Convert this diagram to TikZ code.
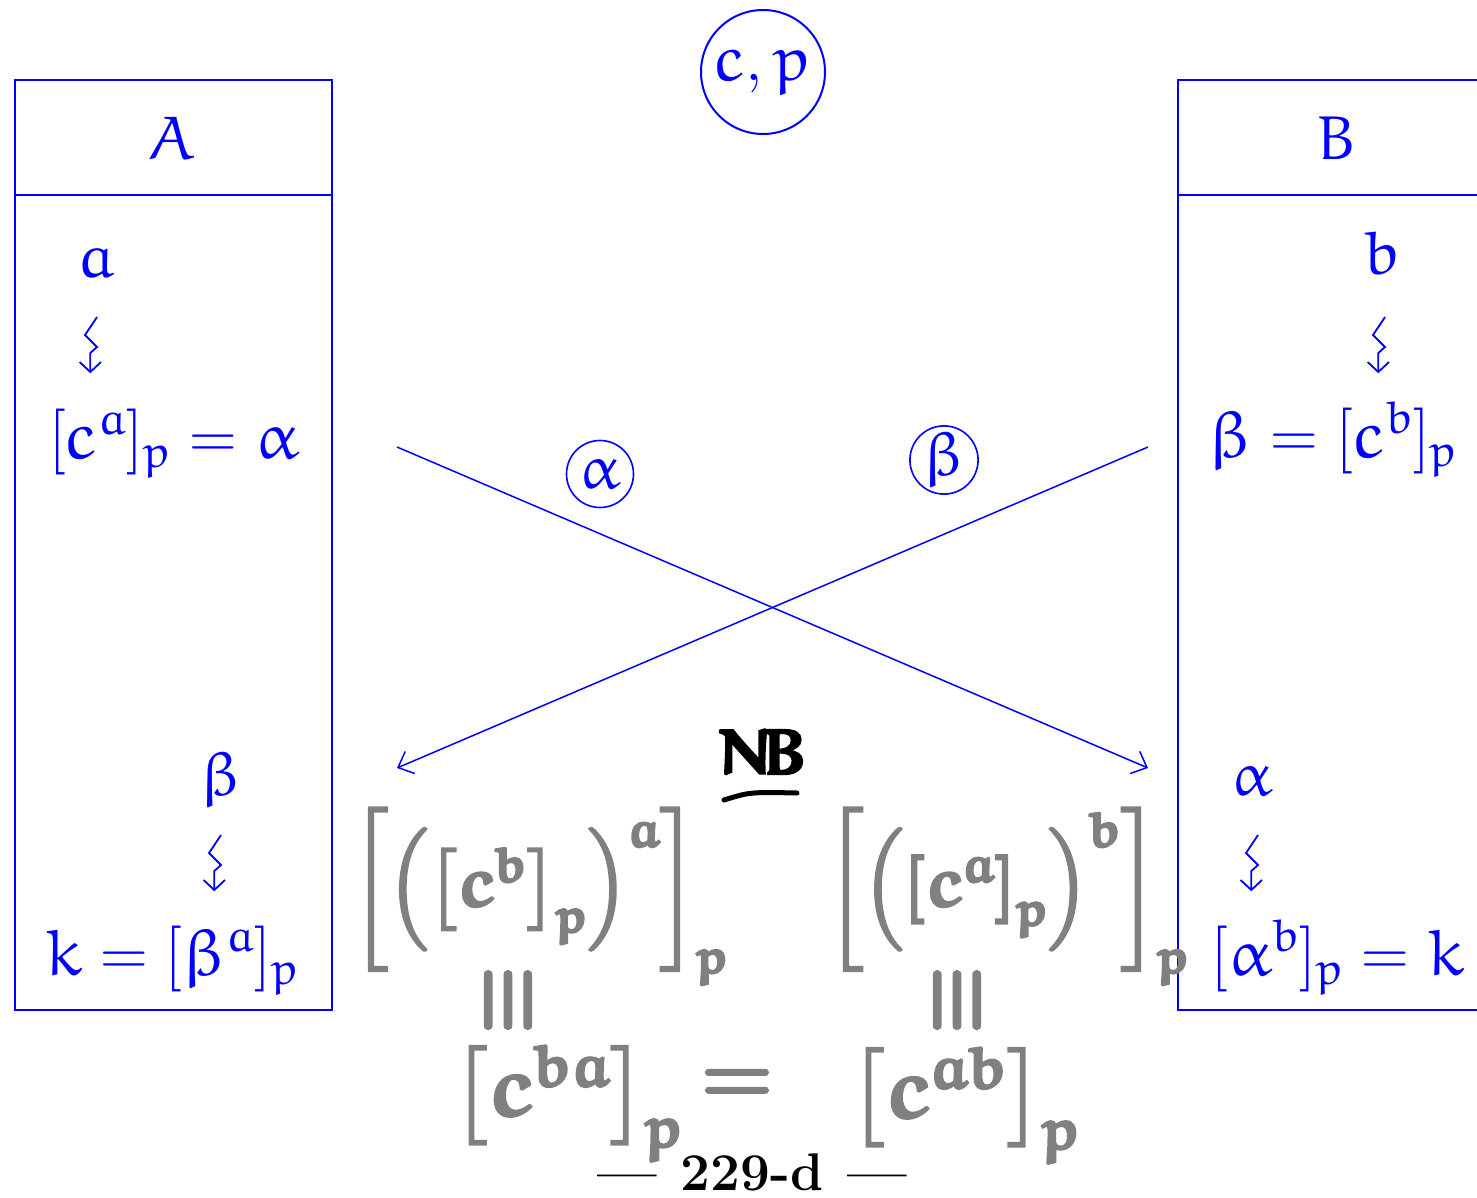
\RequirePackage{fix-cm}
\documentclass[tikz,border=0pt]{standalone}
\usepackage{amsmath,amssymb}
\DeclareFontFamily{U}{myeur}{\skewchar\font'177}
\DeclareFontShape{U}{myeur}{m}{n}{<-6>eurm5<6-8>eurm7<8->eurm10}{}
\DeclareFontShape{U}{myeur}{b}{n}{<-6>eurb5<6-8>eurb7<8->eurb10}{}
\DeclareSymbolFont{eulerletters}{U}{myeur}{m}{n}
\SetSymbolFont{eulerletters}{bold}{U}{myeur}{b}{n}
\DeclareMathSymbol{a}{\mathalpha}{eulerletters}{`a}
\DeclareMathSymbol{b}{\mathalpha}{eulerletters}{`b}
\DeclareMathSymbol{c}{\mathalpha}{eulerletters}{`c}
\DeclareMathSymbol{k}{\mathalpha}{eulerletters}{`k}
\DeclareMathSymbol{p}{\mathalpha}{eulerletters}{`p}
\DeclareMathSymbol{A}{\mathalpha}{eulerletters}{`A}
\DeclareMathSymbol{B}{\mathalpha}{eulerletters}{`B}
\DeclareMathSymbol{N}{\mathalpha}{eulerletters}{`N}
\DeclareMathSymbol{\alpha}{\mathord}{eulerletters}{"0B}
\DeclareMathSymbol{\beta}{\mathord}{eulerletters}{"0C}
\newcommand{\heavy}[1]{\special{pdf:literal 2 Tr 2.5 w}#1\special{pdf:literal 0 Tr}}
\usetikzlibrary{arrows.meta,calc}
\definecolor{hw}{RGB}{128,128,128}
\tikzset{
  boxline/.style={draw=blue,line width=2pt},
  bt/.style={text=blue,font=\fontsize{62}{74}\selectfont,inner sep=0pt},
  bteq/.style={text=blue,font=\fontsize{66}{78}\selectfont,inner sep=0pt},
  hwtext/.style={text=hw,font=\fontsize{68}{80}\selectfont\boldmath,inner sep=0pt},
  hwbig/.style={text=hw,font=\fontsize{82}{96}\selectfont\boldmath,inner sep=0pt},
  ring/.style={circle,draw=blue,line width=1.6pt,inner sep=0pt,text=blue},
  msg/.style={draw=blue,line width=1.5pt,-{Straight Barb[length=13pt,width=24pt,line width=1.5pt]}},
  squig/.pic={
    \draw[blue,line width=1.8pt,line join=miter] (0,0) -- (-12,18) -- (0,30) -- (-6.7,36) -- (-6.7,55);
    \draw[blue,line width=1.8pt] (-17.4,45) -- (-6.7,55) -- (4,45);
  }
}
\begin{document}
\begin{tikzpicture}[x=1pt,y=-1pt]
\useasboundingbox (0,0) rectangle (1477,1198);
% Box A
\draw[boxline] (15,80) rectangle (332,195);
\draw[boxline] (15,195) rectangle (332,1010);
% Box B (runs off the right edge)
\draw[boxline] (1477,80) -- (1178,80) -- (1178,1010) -- (1477,1010);
\draw[boxline] (1178,195) -- (1477,195);

% A texts
\node[bt,anchor=base] (nA) at (172,160) {$A$};
\node[bt,anchor=base] (a1) at (96,277) {$a$};
\pic at (97,317) {squig};
\node[bteq,anchor=base] (eqA1) at (174,458) {$[c^{a}]_p = \alpha$};
\node[bt,anchor=base] (bA) at (221,795) {$\beta$};
\pic at (221,835) {squig};
\node[bteq,anchor=base] (eqA2) at (172,975) {$k = [\beta^{a}]_p$};

% B texts
\node[bt,anchor=base] (nB) at (1337,160) {$B$};
\node[bt,anchor=base] (b1) at (1382,275) {$b$};
\pic at (1385,317) {squig};
\node[bteq,anchor=base] (eqB1) at (1333,457) {$\beta = [c^{b}]_p$};
\node[bt,anchor=base] (aB) at (1252,795) {$\alpha$};
\pic at (1258,835) {squig};
\node[bteq,anchor=base] (eqB2) at (1338,975) {$[\alpha^{b}]_p = k$};

% public values
\node[ring,minimum size=124pt,line width=2pt] (cp) at (763,72) {\fontsize{64}{76}\selectfont$c,p$};
\node[ring,minimum size=67pt] (al) at (600,474) {\fontsize{62}{74}\selectfont$\alpha$};
\node[ring,minimum size=67pt] (be) at (944,460) {\fontsize{62}{74}\selectfont$\beta$};

% exchange
\coordinate (Aout) at (397,447);
\coordinate (Bin) at (1148,768);
\coordinate (Bout) at (1148,447);
\coordinate (Ain) at (397,768);
\draw[msg] (Aout) -- (Bin);
\draw[msg] (Bout) -- (Ain);

% handwritten notes
\node[font=\fontsize{62}{74}\selectfont\boldmath,inner sep=0pt] (nb) at (762,752) {\heavy{$N\!B$}};
\draw[line width=5pt,line cap=round] (724,800) .. controls (750,792) .. (797,793);
\node[hwtext] (lhs) at (540,895) {\heavy{$\left[\left(\left[c^{b}\right]_p\right)^{a}\right]_p$}};
\node[hwtext] (rhs) at (1008,895) {\heavy{$\left[\left(\left[c^{a}\right]_p\right)^{b}\right]_p$}};
\node[hwtext,rotate=90,xscale=1.1,yscale=1.3] (eqL) at (508,1000) {\heavy{$\equiv$}};
\node[hwtext,rotate=90,xscale=1.1,yscale=1.3] (eqR) at (957,1000) {\heavy{$\equiv$}};
\node[hwbig] (botL) at (568,1102) {\heavy{$\left[c^{ba}\right]_p$}};
\node[hwbig] (botEq) at (737,1086) {\heavy{$=$}};
\node[hwbig] (botR) at (965,1104) {\heavy{$\left[c^{ab}\right]_p$}};

% page label
\node[font=\fontsize{53}{64}\selectfont\bfseries,anchor=base,inner sep=0pt] (pg) at (752,1190) {---\hspace{24pt}229-d\hspace{24pt}---};
\end{tikzpicture}
\end{document}
